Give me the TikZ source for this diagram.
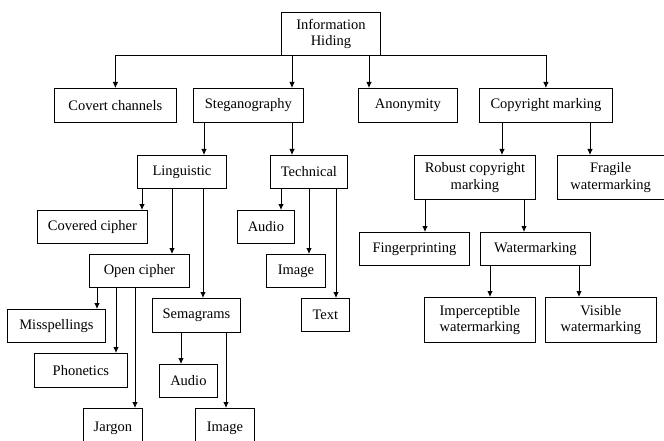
\documentclass[tikz,border=0pt]{standalone}
\usepackage{fontspec}
\setmainfont{Liberation Serif}
\usetikzlibrary{arrows.meta}
\tikzset{
  box/.style={draw, line width=0.8pt, inner sep=0pt, align=center, anchor=north west,
    font=\fontsize{14.5}{16.7}\selectfont},
  arr/.style={line width=0.8pt, -{Latex[length=6pt,width=5.5pt]}}
}
\newcommand{\bx}[7]{\node[box, minimum width=#4pt, minimum height=#5pt] (#1) at (#2,#3) {#6};}
\begin{document}
\begin{tikzpicture}[x=1pt,y=-1pt]
\useasboundingbox (0,0) rectangle (664,441);
\clip (0,0) rectangle (664,441);
\bx{info}{281}{12}{99}{43}{Information\\Hiding}{}
\bx{covert}{54}{88}{122}{34}{Covert channels}{}
\bx{steg}{193}{88}{110}{34}{Steganography}{}
\bx{anon}{358}{88}{99}{34}{Anonymity}{}
\bx{copy}{479}{88}{133}{34}{Copyright marking}{}
\bx{ling}{137}{155}{89}{33}{Linguistic}{}
\bx{tech}{270}{155}{77}{33}{Technical}{}
\bx{robust}{414}{155}{121}{44}{Robust copyright\\marking}{}
\bx{fragile}{557}{155}{106.5}{44}{Fragile\\watermarking}{}
\bx{covered}{37}{210}{110}{33}{Covered cipher}{}
\bx{taudio}{237}{210}{57}{33}{Audio}{}
\bx{open}{89}{254}{100}{33}{Open cipher}{}
\bx{timage}{266}{254}{59}{33}{Image}{}
\bx{text}{301}{298}{48}{33}{Text}{}
\bx{finger}{359}{232}{110}{33}{Fingerprinting}{}
\bx{water}{480}{232}{110}{33}{Watermarking}{}
\bx{imper}{424}{297}{111}{45}{Imperceptible\\watermarking}{}
\bx{visible}{545}{297}{111}{45}{Visible\\watermarking}{}
\bx{missp}{7}{309}{98}{33}{Misspellings}{}
\bx{phon}{34}{353}{93}{34}{Phonetics}{}
\bx{sem}{152}{298}{88}{34}{Semagrams}{}
\bx{saudio}{159}{364}{58}{33}{Audio}{}
\node[box, minimum width=59pt, minimum height=35pt, text depth=0pt] (jargon) at (83,408) {\raisebox{-2pt}{Jargon}};
\node[box, minimum width=59pt, minimum height=35pt, text depth=0pt] (simage) at (195,408) {\raisebox{-2pt}{Image}};
% level 1
\draw[arr] (info.south west) -| (covert.north);
\draw[arr] (info.south -| 292,0) -- (steg.north -| 292,0);
\draw[arr] (info.south -| 369,0) -- (anon.north -| 369,0);
\draw[arr] (info.south east) -| (copy.north);
% steganography
\draw[arr] (steg.south -| 204,0) -- (ling.north -| 204,0);
\draw[arr] (steg.south -| 292,0) -- (tech.north -| 292,0);
% copyright
\draw[arr] (copy.south -| 502,0) -- (robust.north -| 502,0);
\draw[arr] (copy.south -| 590,0) -- (fragile.north -| 590,0);
% linguistic
\draw[arr] (ling.south -| 142,0) -- (covered.north -| 142,0);
\draw[arr] (ling.south -| 172,0) -- (open.north -| 172,0);
\draw[arr] (ling.south -| 203,0) -- (sem.north -| 203,0);
% technical
\draw[arr] (tech.south -| 281,0) -- (taudio.north -| 281,0);
\draw[arr] (tech.south -| 309,0) -- (timage.north -| 309,0);
\draw[arr] (tech.south -| 336,0) -- (text.north -| 336,0);
% robust
\draw[arr] (robust.south -| 425,0) -- (finger.north -| 425,0);
\draw[arr] (robust.south -| 524,0) -- (water.north -| 524,0);
% watermarking
\draw[arr] (water.south -| 490,0) -- (imper.north -| 490,0);
\draw[arr] (water.south -| 579,0) -- (visible.north -| 579,0);
% open cipher
\draw[arr] (open.south -| 97,0) -- (missp.north -| 97,0);
\draw[arr] (open.south -| 116,0) -- (phon.north -| 116,0);
\draw[arr] (open.south -| 135,0) -- (jargon.north -| 135,0);
% semagrams
\draw[arr] (sem.south -| 181,0) -- (saudio.north -| 181,0);
\draw[arr] (sem.south -| 226,0) -- (simage.north -| 226,0);
\end{tikzpicture}
\end{document}
